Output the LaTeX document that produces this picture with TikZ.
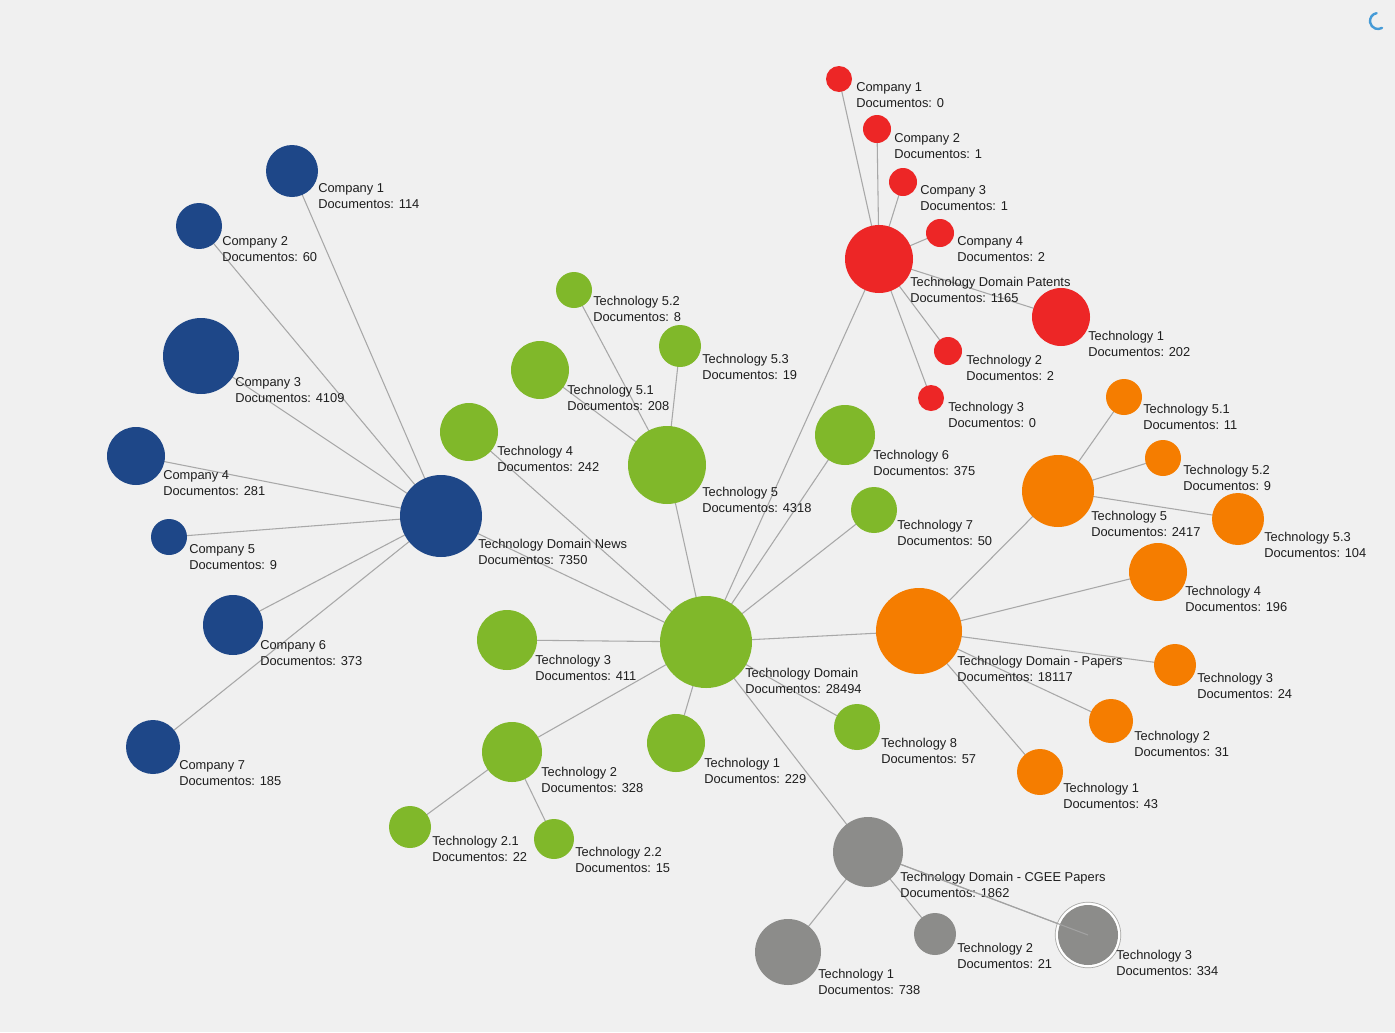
\documentclass[tikz,border=0pt]{standalone}
\usepackage{fontspec}
\setmainfont{Liberation Sans}
\definecolor{bgc}{RGB}{240,240,240}
\definecolor{edgec}{RGB}{168,168,168}
\definecolor{txt}{RGB}{30,30,30}
\definecolor{blueN}{RGB}{30,71,136}
\definecolor{greenN}{RGB}{128,184,42}
\definecolor{redN}{RGB}{237,38,38}
\definecolor{orangeN}{RGB}{245,125,0}
\definecolor{grayN}{RGB}{140,140,138}
\definecolor{spinc}{RGB}{70,155,215}
\pgfdeclarelayer{bglayer}
\pgfdeclarelayer{edgelayer}
\pgfsetlayers{bglayer,edgelayer,main}
\begin{document}
\begin{tikzpicture}[x=0.75pt,y=-0.75pt,
  nd/.style 2 args={circle, fill=#1, minimum size=#2*1.5pt, inner sep=0pt, draw=none},
  lbl/.style={anchor=west, align=left, inner sep=0pt, font=\fontsize{9.65}{12}\selectfont, text=txt},
  link/.style={draw=edgec, line width=0.8pt}]

\begin{pgfonlayer}{bglayer}
\fill[bgc] (0,0) rectangle (1395,1032);
\end{pgfonlayer}
\useasboundingbox (0,0) rectangle (1395,1032);

% ---------- blue ----------
\node[nd={blueN}{41}] (news) at (441,516) {};
\node[lbl] (newsL) at (478,551.5) {Technology Domain News\\Documentos: 7350};
\node[nd={blueN}{26}] (bc1) at (292,171) {};
\node[lbl] (bc1L) at (318,196.5) {Company 1\\Documentos: 114};
\node[nd={blueN}{23}] (bc2) at (199,226) {};
\node[lbl] (bc2L) at (222,249) {Company 2\\Documentos: 60};
\node[nd={blueN}{38}] (bc3) at (201,356) {};
\node[lbl] (bc3L) at (235,390) {Company 3\\Documentos: 4109};
\node[nd={blueN}{29}] (bc4) at (136,456) {};
\node[lbl] (bc4L) at (163,483) {Company 4\\Documentos: 281};
\node[nd={blueN}{18}] (bc5) at (169,537) {};
\node[lbl] (bc5L) at (189,557) {Company 5\\Documentos: 9};
\node[nd={blueN}{30}] (bc6) at (233,625) {};
\node[lbl] (bc6L) at (260,653) {Company 6\\Documentos: 373};
\node[nd={blueN}{27}] (bc7) at (153,747) {};
\node[lbl] (bc7L) at (179,773) {Company 7\\Documentos: 185};

% ---------- green ----------
\node[nd={greenN}{46}] (ghub) at (706,642) {};
\node[lbl] (ghubL) at (745,681) {Technology Domain\\Documentos: 28494};
\node[nd={greenN}{39}] (gt5) at (667,465) {};
\node[lbl] (gt5L) at (702,500) {Technology 5\\Documentos: 4318};
\node[nd={greenN}{18}] (gt52) at (574,290) {};
\node[lbl] (gt52L) at (593,309) {Technology 5.2\\Documentos: 8};
\node[nd={greenN}{21}] (gt53) at (680,346) {};
\node[lbl] (gt53L) at (702,367) {Technology 5.3\\Documentos: 19};
\node[nd={greenN}{29}] (gt51) at (540,370) {};
\node[lbl] (gt51L) at (567,397.5) {Technology 5.1\\Documentos: 208};
\node[nd={greenN}{29}] (gt4) at (469,432) {};
\node[lbl] (gt4L) at (497,459) {Technology 4\\Documentos: 242};
\node[nd={greenN}{30}] (gt6) at (845,435) {};
\node[lbl] (gt6L) at (873,463) {Technology 6\\Documentos: 375};
\node[nd={greenN}{23}] (gt7) at (874,510) {};
\node[lbl] (gt7L) at (897,533) {Technology 7\\Documentos: 50};
\node[nd={greenN}{30}] (gt3) at (507,640) {};
\node[lbl] (gt3L) at (535,668) {Technology 3\\Documentos: 411};
\node[nd={greenN}{30}] (gt2) at (512,752) {};
\node[lbl] (gt2L) at (541,780) {Technology 2\\Documentos: 328};
\node[nd={greenN}{29}] (gt1) at (676,743) {};
\node[lbl] (gt1L) at (704,771) {Technology 1\\Documentos: 229};
\node[nd={greenN}{23}] (gt8) at (857,727) {};
\node[lbl] (gt8L) at (881,751) {Technology 8\\Documentos: 57};
\node[nd={greenN}{21}] (gt21) at (410,827) {};
\node[lbl] (gt21L) at (432,849) {Technology 2.1\\Documentos: 22};
\node[nd={greenN}{20}] (gt22) at (554,839) {};
\node[lbl] (gt22L) at (575,860) {Technology 2.2\\Documentos: 15};

% ---------- red ----------
\node[nd={redN}{34}] (pat) at (879,259) {};
\node[lbl] (patL) at (910,290) {Technology Domain Patents\\Documentos: 1165};
\node[nd={redN}{13}] (rc1) at (839,79) {};
\node[lbl] (rc1L) at (856,95.5) {Company 1\\Documentos: 0};
\node[nd={redN}{14}] (rc2) at (877,129) {};
\node[lbl] (rc2L) at (894,146) {Company 2\\Documentos: 1};
\node[nd={redN}{14}] (rc3) at (903,182) {};
\node[lbl] (rc3L) at (920,198) {Company 3\\Documentos: 1};
\node[nd={redN}{14}] (rc4) at (940,233) {};
\node[lbl] (rc4L) at (957,249.5) {Company 4\\Documentos: 2};
\node[nd={redN}{29}] (rt1) at (1061,317) {};
\node[lbl] (rt1L) at (1088,344) {Technology 1\\Documentos: 202};
\node[nd={redN}{14}] (rt2) at (948,351) {};
\node[lbl] (rt2L) at (966,367.5) {Technology 2\\Documentos: 2};
\node[nd={redN}{13}] (rt3) at (931,398) {};
\node[lbl] (rt3L) at (948,414.5) {Technology 3\\Documentos: 0};

% ---------- orange ----------
\node[nd={orangeN}{43}] (pap) at (919,631) {};
\node[lbl] (papL) at (957,668.5) {Technology Domain - Papers\\Documentos: 18117};
\node[nd={orangeN}{36}] (ot5) at (1058,491) {};
\node[lbl] (ot5L) at (1091,524) {Technology 5\\Documentos: 2417};
\node[nd={orangeN}{18}] (ot51) at (1124,397) {};
\node[lbl] (ot51L) at (1143,416.5) {Technology 5.1\\Documentos: 11};
\node[nd={orangeN}{18}] (ot52) at (1163,458) {};
\node[lbl] (ot52L) at (1183,477.5) {Technology 5.2\\Documentos: 9};
\node[nd={orangeN}{26}] (ot53) at (1238,519) {};
\node[lbl] (ot53L) at (1264,544.5) {Technology 5.3\\Documentos: 104};
\node[nd={orangeN}{29}] (ot4) at (1158,572) {};
\node[lbl] (ot4L) at (1185,599) {Technology 4\\Documentos: 196};
\node[nd={orangeN}{21}] (ot3) at (1175,665) {};
\node[lbl] (ot3L) at (1197,686) {Technology 3\\Documentos: 24};
\node[nd={orangeN}{22}] (ot2) at (1111,721) {};
\node[lbl] (ot2L) at (1134,743.5) {Technology 2\\Documentos: 31};
\node[nd={orangeN}{23}] (ot1) at (1040,772) {};
\node[lbl] (ot1L) at (1063,796) {Technology 1\\Documentos: 43};

% ---------- gray ----------
\node[nd={grayN}{35}] (cgee) at (868,852) {};
\node[lbl] (cgeeL) at (900,884.5) {Technology Domain - CGEE Papers\\Documentos: 1862};
\node[nd={grayN}{33}] (yt1) at (788,952) {};
\node[lbl] (yt1L) at (818,982) {Technology 1\\Documentos: 738};
\node[nd={grayN}{21}] (yt2) at (935,934) {};
\node[lbl] (yt2L) at (957,956) {Technology 2\\Documentos: 21};
\node[nd={grayN}{30}] (yt3) at (1088,935) {};
\draw[white, line width=1.4pt] (yt3.center) circle (23.4pt);
\draw[grayN!75, line width=0.5pt] (yt3.center) circle (24.6pt);
\draw[link, draw=edgec!80!grayN] (cgee) -- (yt3.center);
\node[lbl] (yt3L) at (1116,963) {Technology 3\\Documentos: 334};

% ---------- connectors ----------
\begin{pgfonlayer}{edgelayer}
\foreach \a/\b in {news/bc1,news/bc2,news/bc3,news/bc4,news/bc5,news/bc6,news/bc7,news/ghub,
  ghub/gt5,gt5/gt51,gt5/gt52,gt5/gt53,ghub/gt4,ghub/gt3,ghub/gt2,gt2/gt21,gt2/gt22,
  ghub/gt1,ghub/gt8,ghub/gt7,ghub/gt6,ghub/pat,ghub/pap,ghub/cgee,
  pat/rc1,pat/rc2,pat/rc3,pat/rc4,pat/rt1,pat/rt2,pat/rt3,
  pap/ot5,ot5/ot51,ot5/ot52,ot5/ot53,pap/ot4,pap/ot3,pap/ot2,pap/ot1,
  cgee/yt1,cgee/yt2,cgee/yt3}
  \draw[link] (\a.center) -- (\b.center);
\end{pgfonlayer}

% ---------- loading spinner ----------
\coordinate (spin) at (1378,21);
\begin{scope}[shift={(spin)}, y=0.75pt]
\draw[spinc, line width=1.8pt, line cap=round] (100:8) arc[start angle=100, end angle=300, radius=6pt];
\end{scope}
\end{tikzpicture}
\end{document}
